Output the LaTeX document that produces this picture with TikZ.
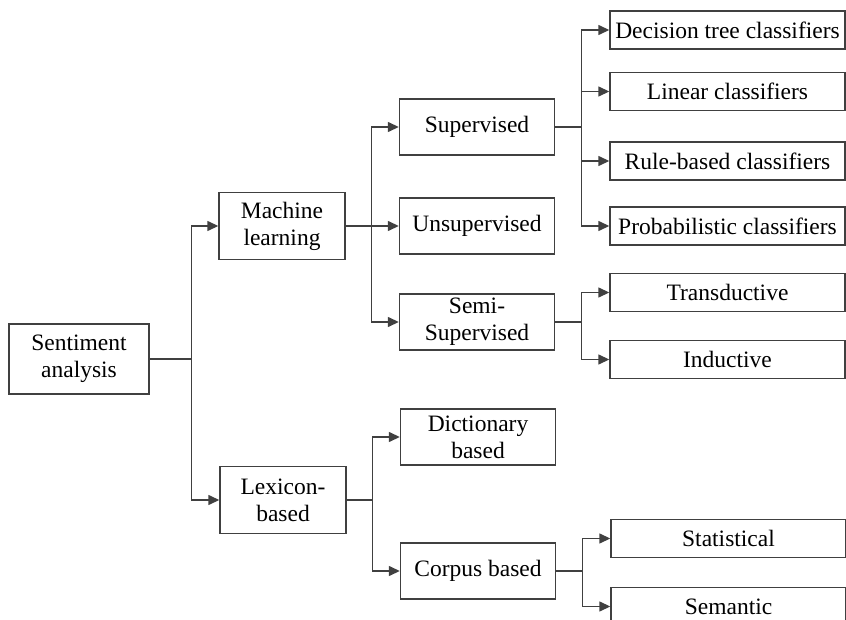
\documentclass[tikz,border=0pt]{standalone}
\usepackage{fontspec}
\setmainfont{Liberation Serif}
\usetikzlibrary{arrows.meta}
\begin{document}
\begin{tikzpicture}[x=1pt,y=-1pt,
  box/.style={draw=black!75, line width=1.4pt, align=center, inner sep=0pt,
    font=\fontsize{23.5}{27}\selectfont, text=black},
  lbox/.style={box, minimum width=140pt, minimum height=70pt},
  mbox/.style={box, minimum width=126pt, minimum height=67pt},
  cbox/.style={box, minimum width=155pt, minimum height=56pt},
  rbox/.style={box, minimum width=235pt, minimum height=38pt},
  arr/.style={draw=black!75, line width=1.4pt, -{Triangle[length=11pt,width=10pt]}}]
\useasboundingbox (0,0) rectangle (846,620);
\node[lbox] (sa) at (79,359) {Sentiment\\analysis};
\node[mbox] (ml) at (282,226) {Machine\\learning};
\node[mbox] (lb) at (283,500) {Lexicon-\\based};
\node[cbox] (sup) at (477,127) {Supervised};
\node[cbox] (uns) at (477,226) {Unsupervised};
\node[cbox] (semi) at (477,322) {Semi-\\Supervised};
\node[cbox] (dict) at (478,437) {Dictionary\\based};
\node[cbox] (corp) at (478,571) {Corpus based};
\node[rbox] (dt) at (727.5,30) {Decision tree classifiers};
\node[rbox] (lin) at (727.5,91.5) {Linear classifiers};
\node[rbox] (rb) at (727.5,161) {Rule-based classifiers};
\node[rbox] (pc) at (727.5,226) {Probabilistic classifiers};
\node[rbox] (tr) at (727.5,292.5) {Transductive};
\node[rbox] (ind) at (727.5,359.5) {Inductive};
\node[rbox] (st) at (728.5,538.5) {Statistical};
\node[rbox] (se) at (728.5,606.5) {Semantic};
% level 1
\draw[arr] (sa.east) -- ++(42,0) |- (ml.west);
\draw[arr] (sa.east) -- ++(42,0) |- (lb.west);
% machine learning
\draw[arr] (ml.east) -- ++(26,0) |- (sup.west);
\draw[arr] (ml.east) -- (uns.west);
\draw[arr] (ml.east) -- ++(26,0) |- (semi.west);
% lexicon
\draw[arr] (lb.east) -- ++(26,0) |- (dict.west);
\draw[arr] (lb.east) -- ++(26,0) |- (corp.west);
% supervised
\foreach \t in {dt,lin,rb,pc} \draw[arr] (sup.east) -- ++(26,0) |- (\t.west);
% semi
\foreach \t in {tr,ind} \draw[arr] (semi.east) -- ++(26,0) |- (\t.west);
% corpus
\foreach \t in {st,se} \draw[arr] (corp.east) -- ++(26,0) |- (\t.west);
\end{tikzpicture}
\end{document}
